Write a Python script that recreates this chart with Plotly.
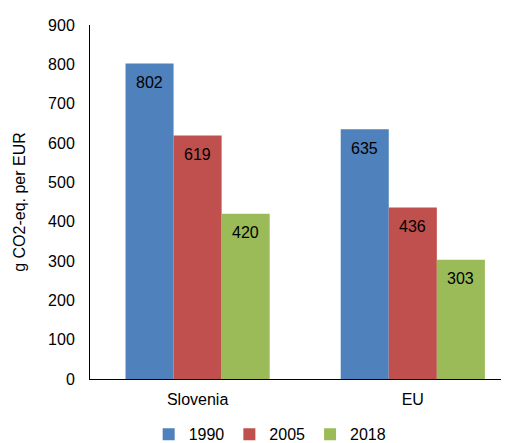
import plotly.graph_objects as go

categories = ["Slovenia", "EU"]
years = ["1990", "2005", "2018"]
values_1990 = [802, 635]
values_2005 = [619, 436]
values_2018 = [420, 303]
colors = ["#4F81BD", "#C0504D", "#9BBB59"]
y_ticks = [0, 100, 200, 300, 400, 500, 600, 700, 800, 900]

series = [values_1990, values_2005, values_2018]
FONT = "Liberation Sans, Arial, sans-serif"

fig = go.Figure()
for yr, vals, col in zip(years, series, colors):
    fig.add_trace(go.Bar(name=yr, x=categories, y=vals, marker_color=col,
                         marker_line_width=0))

annotations = []
for i, vals in enumerate(series):
    for ci, v in enumerate(vals):
        annotations.append(dict(x=ci, y=v, xref="x", yref="y", text=str(v),
                                showarrow=False, xshift=(i - 1) * 48, yshift=-19,
                                font=dict(family=FONT, size=16, color="black")))

fig.update_layout(
    width=501, height=435,
    margin=dict(l=82, r=0, t=17, b=64, autoexpand=False),
    paper_bgcolor="white", plot_bgcolor="white",
    barmode="group", bargap=0.33, bargroupgap=0,
    font=dict(family=FONT, size=16, color="black"),
    annotations=annotations,
    legend=dict(orientation="h", x=0.43, xanchor="center", yref="container",
                y=0.02, yanchor="middle",
                font=dict(size=16), itemwidth=30, tracegroupgap=0),
    xaxis=dict(type="category", range=[-0.5, 1.447], showline=True, linecolor="black",
               linewidth=1, ticks="outside", ticklen=6, tickcolor="white",
               showgrid=False, tickfont=dict(size=16)),
    yaxis=dict(range=[0, 900], tickvals=y_ticks, showline=True, linecolor="black",
               linewidth=1, ticks="outside", ticklen=11, tickcolor="white",
               showgrid=False, zeroline=False,
               tickfont=dict(size=16),
               title=dict(text="g CO2-eq. per EUR", font=dict(size=16), standoff=18)),
)

fig.write_html("out.html")
